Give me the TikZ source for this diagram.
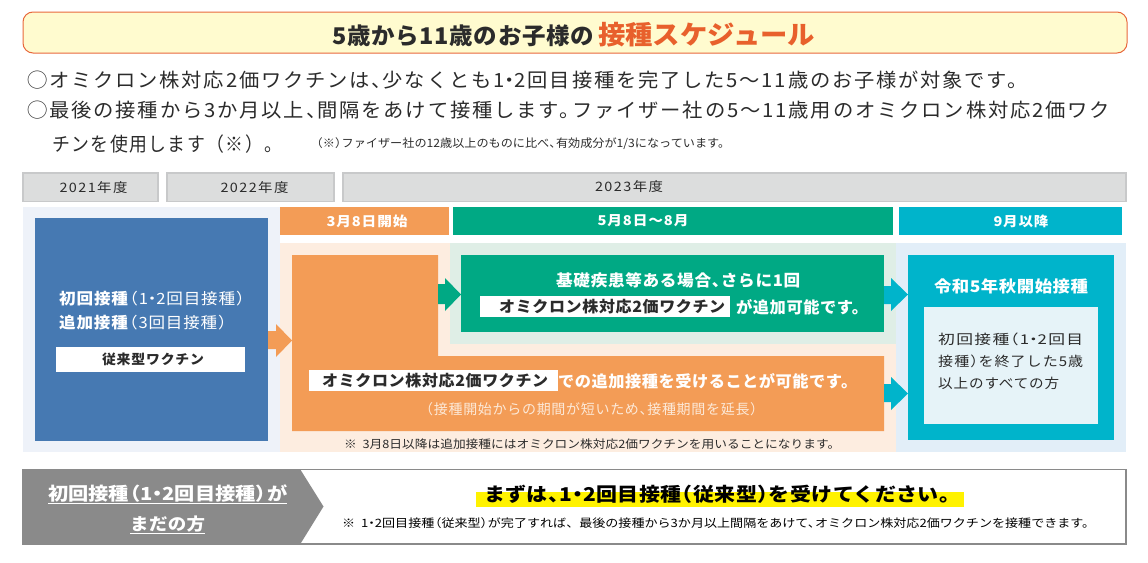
\documentclass[tikz,border=0pt]{standalone}
\usepackage{fontspec}
\usepackage{graphicx}
\setmainfont{Noto Sans CJK JP}
\definecolor{ink}{HTML}{2B2B2B}
\definecolor{titlefill}{HTML}{FFFBCF}
\definecolor{titleline}{HTML}{E8683C}
\definecolor{titleorange}{HTML}{E8602C}
\definecolor{gfill}{HTML}{DCDDDD}
\definecolor{gline}{HTML}{C8C9CA}
\definecolor{bluebg}{HTML}{EEF2F9}
\definecolor{bluebox}{HTML}{4679B2}
\definecolor{orangebox}{HTML}{F39C56}
\definecolor{greenbox}{HTML}{00A984}
\definecolor{tealbox}{HTML}{00B4CB}
\definecolor{peach}{HTML}{FDEDE0}
\definecolor{palegreen}{HTML}{DFEEE6}
\definecolor{paleblue}{HTML}{E2EEF8}
\definecolor{innerblue}{HTML}{E6F3F8}
\definecolor{paletext}{HTML}{FCE9D8}
\definecolor{barline}{HTML}{8A8A8A}
\definecolor{hl}{HTML}{FFF200}
% width(pt), font size, letter spacing, text
\newcommand\ft[4]{\resizebox{#1pt}{\height}{\fontsize{#2}{#2}\selectfont\addfontfeature{LetterSpace=#3}#4}}
\newcommand\fb[4]{\resizebox{#1pt}{\height}{\fontsize{#2}{#2}\selectfont\bfseries\addfontfeature{LetterSpace=#3}#4}}
% tight punctuation, as the reference sets it
\newcommand\Cm{、\kern-.45em}
\newcommand\Pd{。\kern-.35em}
\newcommand\Lp{\kern-.45em（}
\newcommand\Rp{）\kern-.45em}
\newcommand\Dt{\kern-.25em・\kern-.25em}
\tikzset{
  tx/.style={inner sep=0pt,anchor=west,text=ink},
  wtx/.style={inner sep=0pt,anchor=west,text=white},
  ctr/.style={inner sep=0pt,anchor=center},
  yearbox/.style={draw=gline,line width=1.5pt,fill=gfill},
  flat/.style={draw=none}
}
\begin{document}
\begin{tikzpicture}[x=1pt,y=-1pt]
\useasboundingbox (0,0) rectangle (1148,562);
% title
\path[draw=titleline,fill=titlefill,line width=1pt,rounded corners=10pt] (23,12) rectangle (1127,53);
\node[tx] (t1) at (332,36) {\fb{262}{23}{3}{5歳から11歳のお子様の}};
\node[inner sep=0pt,anchor=west,text=titleorange] (t2) at (598,34.5) {\fb{217}{26}{0}{接種スケジュール}};
% intro
\node[tx] (l1) at (27,80) {\ft{1000}{19.5}{9}{◯オミクロン株対応2価ワクチンは\Cm 少なくとも1\Dt 2回目接種を完了した5～11歳のお子様が対象です。}};
\node[tx] (l2) at (27,110) {\ft{1083}{19.5}{9}{◯最後の接種から3か月以上\Cm 間隔をあけて接種します\Pd ファイザー社の5～11歳用のオミクロン株対応2価ワク}};
\node[tx] (l3) at (52,144) {\ft{230}{19.5}{8}{チンを使用します（※）。}};
\node[tx] (note) at (316,144) {\ft{414}{11.5}{0}{\Lp ※\Rp ファイザー社の12歳以上のものに比べ\Cm 有効成分が1/3になっています。}};
% year boxes
\path[yearbox] (23,173) rectangle (158,201.5);
\path[yearbox] (167,173) rectangle (334,201.5);
\path[yearbox] (343,173) rectangle (1126,201.5);
\node[ctr,text=ink] (y1) at (93.5,188) {\ft{68}{13}{10}{2021年度}};
\node[ctr,text=ink] (y2) at (254.5,188) {\ft{68}{13}{10}{2022年度}};
\node[ctr,text=ink] (y3) at (629,187) {\ft{68}{13}{10}{2023年度}};
% backgrounds
\fill[bluebg] (23,207) rectangle (280,452);
\fill[peach] (280,243) rectangle (896,452);
\fill[palegreen] (450,243) rectangle (896,344);
\fill[paleblue] (896,243) rectangle (1126,452);
% period headers
\fill[orangebox] (280,207) rectangle (449,235);
\fill[greenbox] (453,207) rectangle (893,235);
\fill[tealbox] (899,207) rectangle (1122,235);
\node[ctr,text=white] (h1) at (367,221) {\fb{81}{13.5}{6}{3月8日開始}};
\node[ctr,text=white] (h2) at (643,221) {\fb{91}{13.5}{6}{5月8日～8月}};
\node[ctr,text=white] (h3) at (1021,221) {\fb{55}{13.5}{6}{9月以降}};
% blue box
\fill[bluebox] (35,218) rectangle (268,441);
\node[wtx] (b1) at (59,299) {\ft{186}{15.5}{5}{\textbf{初回接種}\Lp 1\Dt 2回目接種\Rp}};
\node[wtx] (b2) at (59,323) {\ft{168}{15.5}{5}{\textbf{追加接種}\Lp 3回目接種\Rp}};
\fill[white] (56,347) rectangle (245,372);
\node[ctr,text=ink] (b3) at (153,359) {\fb{102}{13.5}{6}{従来型ワクチン}};
% arrow blue to orange
\fill[orangebox] (268,331) -- (276,331) -- (276,324) -- (292,340.5) -- (276,357) -- (276,349) -- (268,349) -- cycle;
% orange L block
\fill[orangebox] (292,255) -- (438,255) -- (438,356) -- (884,356) -- (884,431) -- (292,431) -- cycle;
% green box
\fill[greenbox] (461,255) rectangle (884,332);
% arrows
\fill[greenbox] (438,284) -- (445,284) -- (445,278) -- (461,294.5) -- (445,311) -- (445,304) -- (438,304) -- cycle;
\fill[tealbox] (884,286) -- (891,286) -- (891,278) -- (908,294.5) -- (891,311) -- (891,304) -- (884,304) -- cycle;
\fill[tealbox] (884,384) -- (891,384) -- (891,377) -- (908,393.5) -- (891,410) -- (891,402) -- (884,402) -- cycle;
% green texts
\node[wtx] (g1) at (556,280) {\fb{244}{16}{4}{基礎疾患等ある場合\Cm さらに1回}};
\fill[white] (480,296) rectangle (730,317);
\node[tx] (g2) at (499,307) {\fb{226}{15.5}{4}{オミクロン株対応2価ワクチン}};
\node[wtx] (g3) at (736,307) {\fb{132}{16}{3}{が追加可能です。}};
% orange texts
\fill[white] (309,370) rectangle (558,391);
\node[tx] (o1) at (322,381) {\fb{226}{15.5}{4}{オミクロン株対応2価ワクチン}};
\node[wtx] (o2) at (558,381) {\fb{299}{16}{3}{での追加接種を受けることが可能です。}};
\node[inner sep=0pt,anchor=west,text=paletext] (o3) at (419,409) {\ft{345}{14}{5}{（接種開始からの期間が短いため\Cm 接種期間を延長）}};
\node[tx] (o4) at (344,444) {\ft{496}{11.5}{0}{※\ \ 3月8日以降は追加接種にはオミクロン株対応2価ワクチンを用いることになります。}};
% teal box
\fill[tealbox] (908,255) rectangle (1114,440);
\node[ctr,text=white] (c1) at (1011,286) {\fb{154}{16}{3}{令和5年秋開始接種}};
\fill[innerblue] (924,307) rectangle (1098,424);
\node[tx] (c2) at (938,339) {\ft{145}{13.5}{8}{初回接種\Lp 1\Dt 2回目}};
\node[tx] (c3) at (938,361) {\ft{145}{13.5}{7}{接種\Rp を終了した5歳}};
\node[tx] (c4) at (938,383) {\ft{121}{13.5}{6}{以上のすべての方}};
% bottom bar
\path[draw=barline,fill=white,line width=1.5pt] (23,469.5) rectangle (1126,544);
\fill[barline] (22.5,469) -- (300,469) -- (323.5,506.5) -- (300,544.5) -- (22.5,544.5) -- cycle;
\node[wtx] (d1) at (48,494) {\fb{239}{18}{0}{初回接種\Lp 1\Dt 2回目接種\Rp が}};
\node[wtx] (d2) at (130,524) {\fb{75}{17}{2}{まだの方}};
\draw[white,line width=1pt] (48,503) -- (287,503);
\draw[white,line width=1pt] (130,533) -- (205,533);
\fill[hl] (476,492) rectangle (964,507);
\node[inner sep=0pt,anchor=west,text=black] (d3) at (484,494) {\fb{476}{19}{2}{まずは\Cm 1\Dt 2回目接種\Lp 従来型\Rp を受けてください。}};
\node[inner sep=0pt,anchor=west,text=black] (d4) at (342,523) {\ft{753}{11.5}{0}{※\ \ 1\Dt 2回目接種\Lp 従来型\Rp が完了すれば\Cm \ \ 最後の接種から3か月以上間隔をあけて\Cm オミクロン株対応2価ワクチンを接種できます。}};
\end{tikzpicture}
\end{document}
